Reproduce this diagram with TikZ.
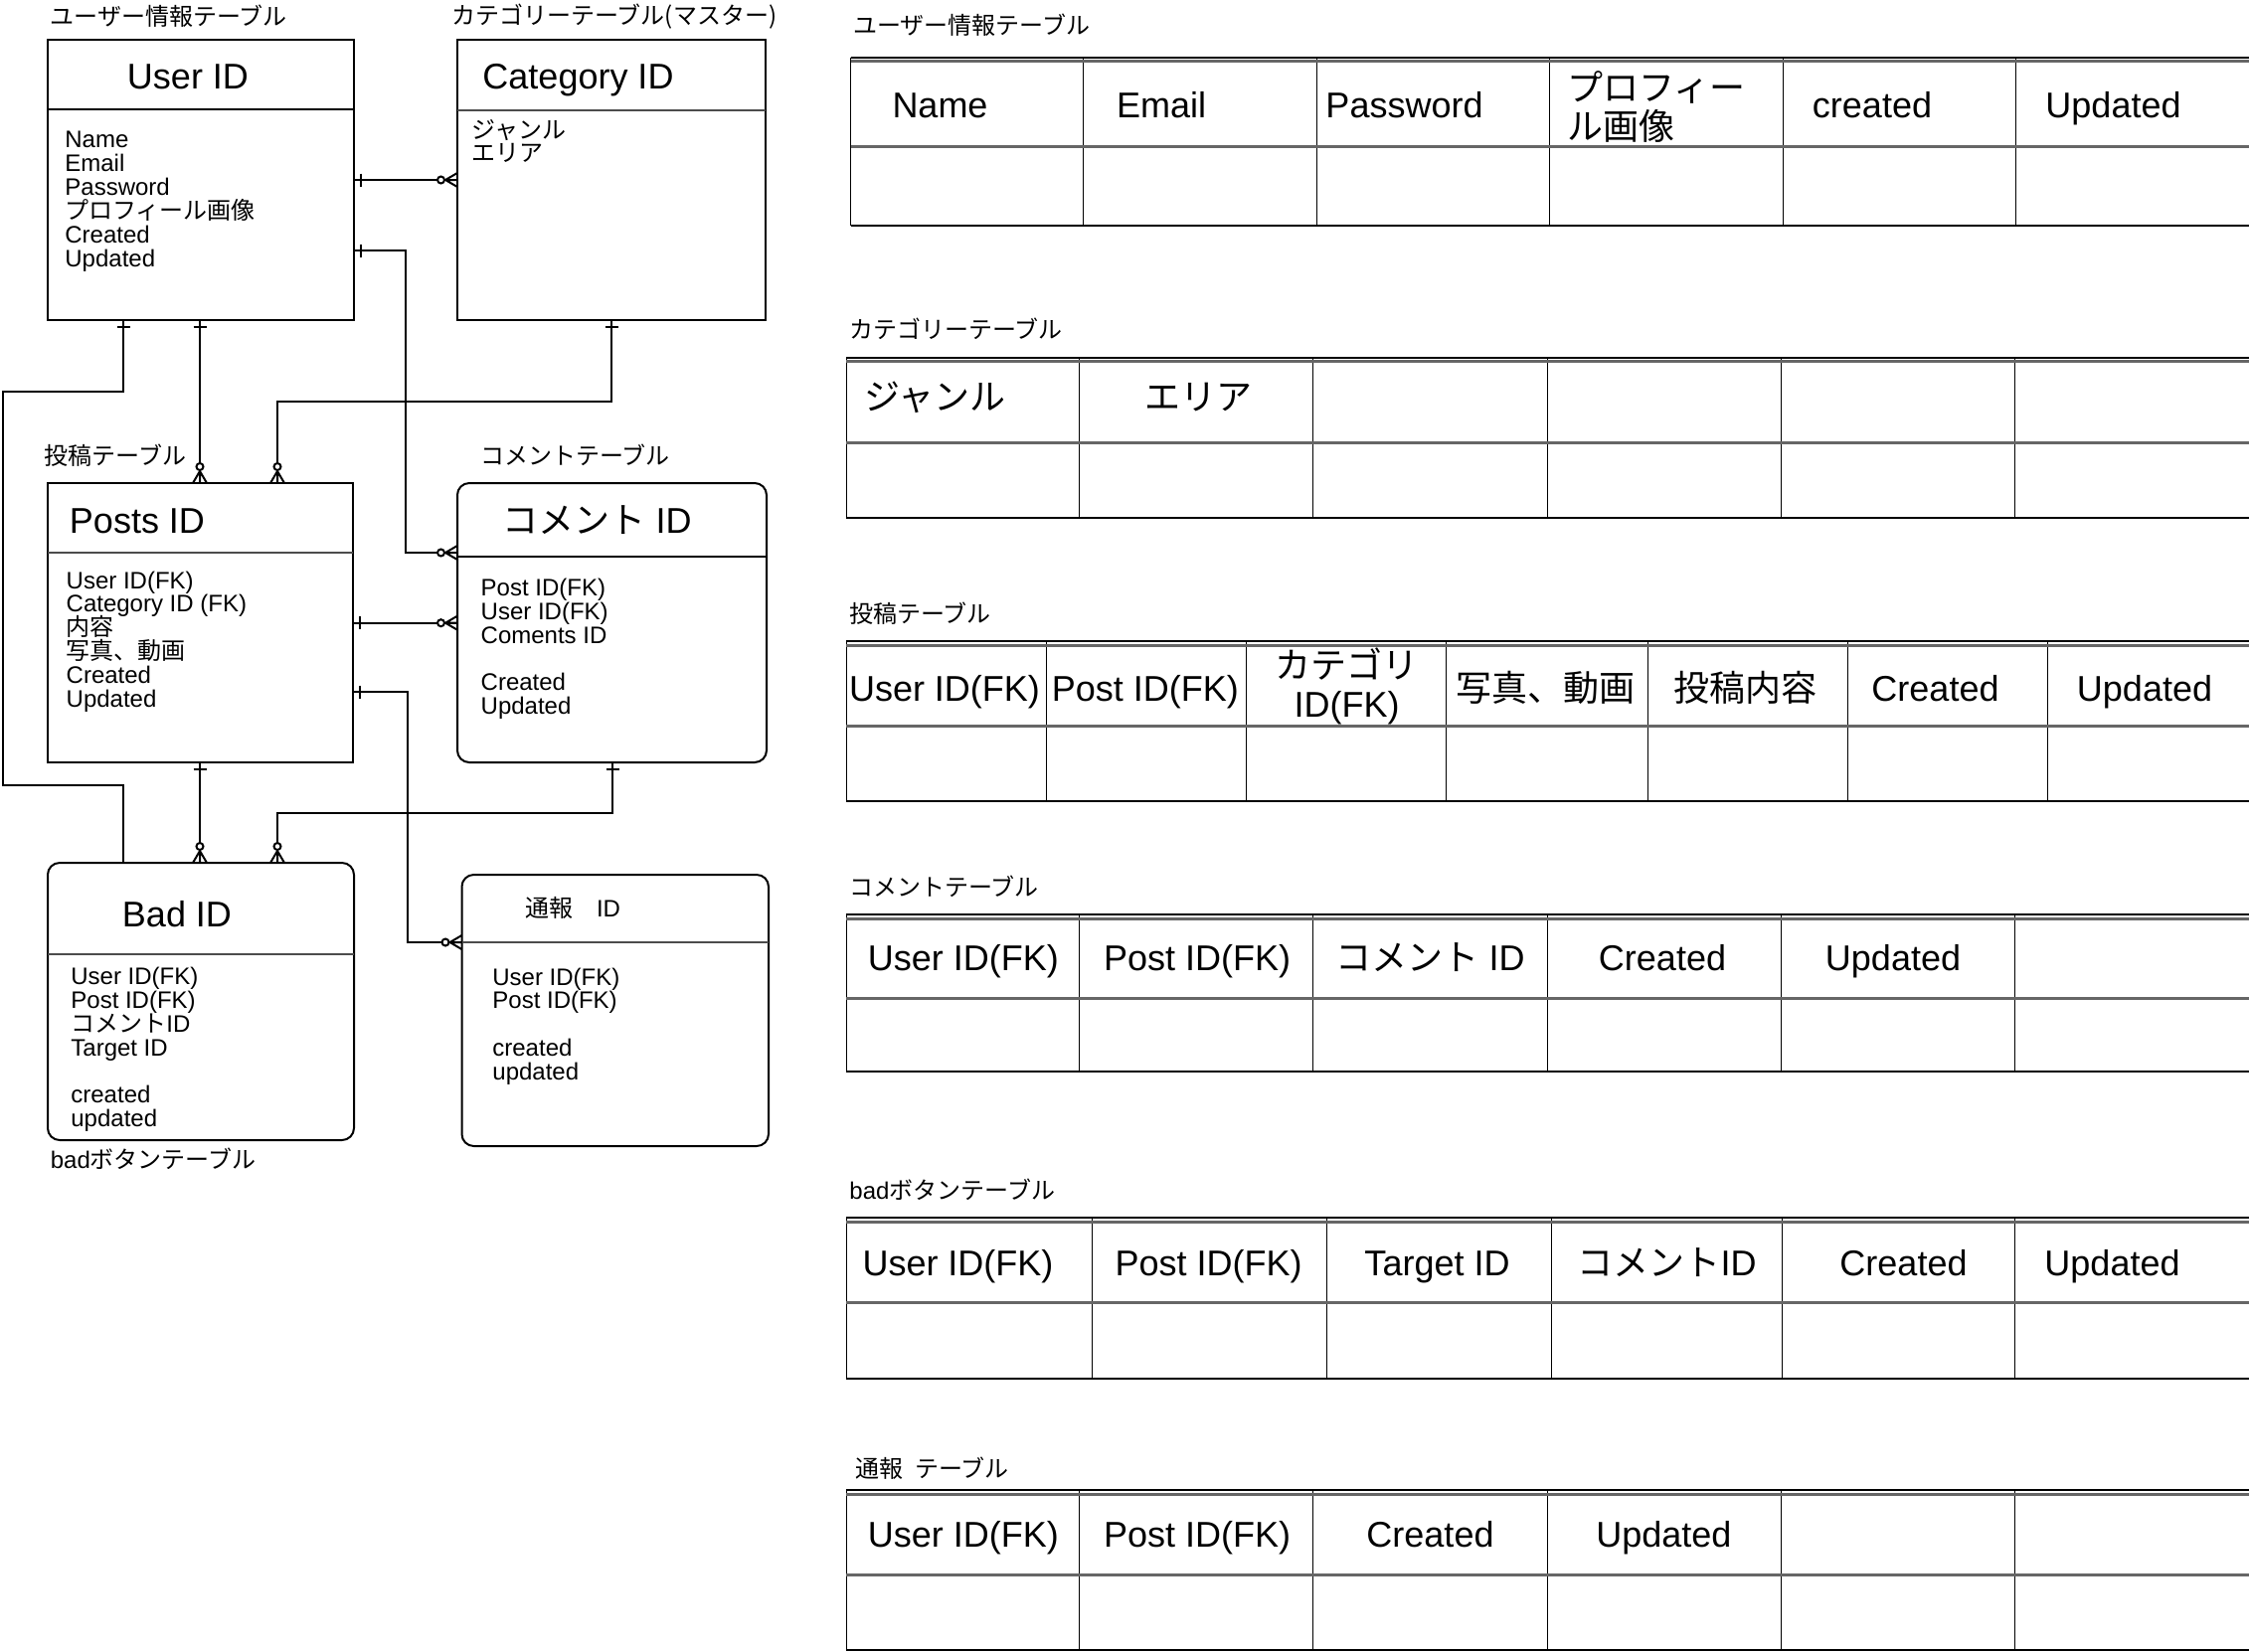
\documentclass[tikz,border=0pt]{standalone}
\usepackage{fontspec}
\setmainfont{Liberation Sans}
\newfontfamily\jpfont{Noto Sans CJK JP}
\newcommand{\jtxt}[1]{{\jpfont #1}}
\lineskiplimit=-\maxdimen
\tikzset{
  erbox/.style={draw, line width=1pt, inner sep=0pt, outer sep=0pt, anchor=north west},
  rbox/.style={erbox, rounded corners=6pt},
  erdiv/.style={line width=1pt, black!70},
  conn/.style={line width=1pt, black},
  lbl/.style={font=\fontsize{12}{12}\selectfont, inner sep=0pt, anchor=base west},
  hd/.style={font=\fontsize{18}{18}\selectfont, inner sep=0pt, anchor=base},
  fld/.style={font=\fontsize{12}{11.95}\selectfont, inner sep=0pt, anchor=base west, align=left},
  cell/.style={font=\fontsize{18}{19.5}\selectfont, inner sep=0pt, anchor=base},
  tblack/.style={line width=1pt, black},
  tgray/.style={line width=1.5pt, black!60},
  tcol/.style={line width=0.5pt, black},
  oneR/.pic={\draw[conn] (7,-6.5) -- (7,6.5);},
  oneB/.pic={\draw[conn] (-6.5,7) -- (6.5,7);},
  zmanyL/.pic={\draw[conn] (0,-7) -- (-12,0) -- (0,7) (-12,0) -- (0,0);
               \draw[conn,fill=white] (-16.5,0) circle[radius=3.5];},
  zmanyT/.pic={\draw[conn] (-7,0) -- (0,-12) -- (7,0) (0,-12) -- (0,0);
               \draw[conn,fill=white] (0,-16.5) circle[radius=3.5];},
}
\newcommand{\rtab}[5]{%
  \draw[tcol] (#1,#2) -- (#1,#4);
  \foreach \cx in {#5} {\draw[tcol] (\cx,#2) -- (\cx,#4);}
  \draw[tblack] (#1,#2) -- (2262,#2);
  \draw[tgray] (#1,#2+4) -- (2262,#2+4);
  \draw[tgray] (#1,#3) -- (2262,#3);
  \draw[tblack] (#1,#4) -- (2262,#4);
}
\begin{document}
\begin{tikzpicture}[x=0.5pt, y=-0.5pt]
\useasboundingbox (0,0) rectangle (2262,1661);

% ---------------- ER boxes ----------------
\node[erbox, minimum width=154pt, minimum height=141pt] (user) at (48,40) {};
\node[erbox, minimum width=155pt, minimum height=141pt] (cat) at (460,40) {};
\node[erbox, minimum width=153.5pt, minimum height=140.5pt] (posts) at (48,486) {};
\node[rbox, minimum width=155.5pt, minimum height=140.5pt] (comm) at (460,486) {};
\node[rbox, minimum width=154pt, minimum height=139.5pt] (bad) at (48,868) {};
\node[rbox, minimum width=154.25pt, minimum height=136.5pt] (tsuho) at (464.5,880) {};

\draw[line width=1pt] (48,110) -- (356,110);
\draw[erdiv] (460,111) -- (770,111);
\draw[erdiv] (48,556) -- (355,556);
\draw[line width=1pt] (460,560) -- (771,560);
\draw[erdiv] (48,960) -- (356,960);
\draw[erdiv] (464.5,948) -- (773,948);

% headings
\node[hd] (userh) at (189,89) {User ID};
\node[hd] (cath) at (581.5,89) {Category ID};
\node[hd] (postsh) at (138,536) {Posts ID};
\node[hd] (commh) at (600.5,536) {\jtxt{コメント} ID};
\node[hd] (badh) at (178,932) {Bad ID};
\node[lbl, anchor=base] (tsuhoh) at (576,922) {\jtxt{通報　}ID};

% fields (anchor = baseline of last line)
\node[fld] (userf) at (65,268.1) {Name\\Email\\Password\\\jtxt{プロフィール画像}\\Created\\Updated};
\node[fld] (catf) at (474.5,162.9) {\jtxt{ジャンル}\\\jtxt{エリア}};
\node[fld] (postsf) at (66.3,711.5) {User ID(FK)\\Category ID (FK)\\\jtxt{内容}\\\jtxt{写真、動画}\\Created\\Updated};
\node[fld] (commf) at (483.3,718.8) {Post ID(FK)\\User ID(FK)\\Coments ID\\~\\Created\\Updated};
\node[fld] (badf) at (71,1133.7) {User ID(FK)\\Post ID(FK)\\\jtxt{コメント}ID\\Target ID\\~\\created\\updated};
\node[fld] (tsuhof) at (495,1086.6) {User ID(FK)\\Post ID(FK)\\~\\created\\updated};

% labels
\node[lbl] (l1) at (50.5,25.7) {\jtxt{ユーザー情報テーブル}};
\node[lbl] (l2) at (454,24) {\jtxt{カテゴリーテーブル(マスター)}};
\node[lbl] (l3) at (44.4,467) {\jtxt{投稿テーブル}};
\node[lbl] (l4) at (483,467) {\jtxt{コメントテーブル}};
\node[lbl] (l5) at (50.5,1175) {bad\jtxt{ボタンテーブル}};

% ---------------- connectors ----------------
% user -> category
\draw[conn] ([yshift=-70.5pt]user.north east) -- ([yshift=-70.5pt]cat.north west);
\pic at ([yshift=-70.5pt]user.north east) {oneR};
\pic at ([yshift=-70.5pt]cat.north west) {zmanyL};
% user -> comment
\draw[conn] ([yshift=-106pt]user.north east) -| (408,556) -- ([yshift=-35pt]comm.north west);
\pic at ([yshift=-106pt]user.north east) {oneR};
\pic at ([yshift=-35pt]comm.north west) {zmanyL};
% user -> bad (left route)
\draw[conn] ([xshift=38pt]user.south west) -- (124,394) -- (3,394) -- (3,790) -- (124,790) -- ([xshift=38pt]bad.north west);
\pic at ([xshift=38pt]user.south west) {oneB};
% user -> posts
\draw[conn] ([xshift=76.5pt]user.south west) -- ([xshift=76.5pt]posts.north west);
\pic at ([xshift=76.5pt]user.south west) {oneB};
\pic at ([xshift=76.5pt]posts.north west) {zmanyT};
% category -> posts
\draw[conn] ([xshift=77.5pt]cat.south west) -- (615,404) -- (279,404) -- ([xshift=115.5pt]posts.north west);
\pic at ([xshift=77.5pt]cat.south west) {oneB};
\pic at ([xshift=115.5pt]posts.north west) {zmanyT};
% posts -> comment
\draw[conn] ([yshift=-70.35pt]posts.north east) -- ([yshift=-70.35pt]comm.north west);
\pic at ([yshift=-70.35pt]posts.north east) {oneR};
\pic at ([yshift=-70.35pt]comm.north west) {zmanyL};
% posts -> tsuho
\draw[conn] ([yshift=-105pt]posts.north east) -| (410,948) -- ([yshift=-34pt]tsuho.north west);
\pic at ([yshift=-105pt]posts.north east) {oneR};
\pic at ([yshift=-34pt]tsuho.north west) {zmanyL};
% posts -> bad
\draw[conn] ([xshift=76.5pt]posts.south west) -- ([xshift=76.5pt]bad.north west);
\pic at ([xshift=76.5pt]posts.south west) {oneB};
\pic at ([xshift=76.5pt]bad.north west) {zmanyT};
% comment -> bad
\draw[conn] ([xshift=78pt]comm.south west) -- (616,818) -- (279,818) -- ([xshift=115.5pt]bad.north west);
\pic at ([xshift=78pt]comm.south west) {oneB};
\pic at ([xshift=115.5pt]bad.north west) {zmanyT};

% ---------------- right tables ----------------
\rtab{855.5}{57.5}{147.5}{227}{1089.4,1324.3,1558.3,1793.2,2027.2}
\node[lbl] (r1) at (858,34) {\jtxt{ユーザー情報テーブル}};
\node[cell] (a1) at (945.5,118) {Name};
\node[cell] (a2) at (1168,118) {Email};
\node[cell] (a3) at (1412.5,118) {Password};
\node[cell, anchor=base west, align=left] (a4) at (1576,140) {\jtxt{プロフィー}\\\jtxt{ル画像}};
\node[cell] (a5) at (1883,118) {created};
\node[cell] (a6) at (2125.5,118) {Updated};

\rtab{851}{359.5}{445.7}{521}{1085.8,1320.7,1556.5,1791.4,2026.3}
\node[lbl] (r2) at (854,340.7) {\jtxt{カテゴリーテーブル}};
\node[cell] (b1) at (940.6,412) {\jtxt{ジャンル}};
\node[cell] (b2) at (1205,412) {\jtxt{エリア}};

\rtab{851}{645}{730.3}{806}{1052.2,1253.6,1454.9,1657.2,1858.5,2059.9}
\node[lbl] (r3) at (854,626.5) {\jtxt{投稿テーブル}};
\node[cell] (c1) at (950,705) {User ID(FK)};
\node[cell] (c2) at (1151.8,705) {Post ID(FK)};
\node[cell, align=center] (c3) at (1354.5,721) {\jtxt{カテゴリ}\\ID(FK)};
\node[cell] (c4) at (1554,705) {\jtxt{写真、動画}};
\node[cell] (c5) at (1755,705) {\jtxt{投稿内容}};
\node[cell] (c6) at (1946.5,705) {Created};
\node[cell] (c7) at (2157,705) {Updated};

\rtab{851}{920}{1004}{1078}{1085.8,1320.7,1556.5,1791.4,2026.3}
\node[lbl] (r4) at (854,901.5) {\jtxt{コメントテーブル}};
\node[cell] (d1) at (968.8,976) {User ID(FK)};
\node[cell] (d2) at (1204,976) {Post ID(FK)};
\node[cell] (d3) at (1438.5,976) {\jtxt{コメント} ID};
\node[cell] (d4) at (1672,976) {Created};
\node[cell] (d5) at (1904,976) {Updated};

\rtab{851}{1225}{1310}{1386.5}{1098.5,1334.3,1560,1792.3,2026.3}
\node[lbl] (r5) at (854,1206.5) {bad\jtxt{ボタンテーブル}};
\node[cell] (e1) at (963.5,1283) {User ID(FK)};
\node[cell] (e2) at (1215.5,1283) {Post ID(FK)};
\node[cell] (e3) at (1445.5,1283) {Target ID};
\node[cell] (e4) at (1676.5,1283) {\jtxt{コメント}ID};
\node[cell] (e5) at (1914.5,1283) {Created};
\node[cell] (e6) at (2124.5,1283) {Updated};

\rtab{851}{1499}{1584}{1660}{1085.8,1320.7,1556.5,1791.4,2026.3}
\node[lbl] (r6) at (860,1486) {\jtxt{通報\hspace{0.5em}テーブル}};
\node[cell] (f1) at (968.8,1556) {User ID(FK)};
\node[cell] (f2) at (1204,1556) {Post ID(FK)};
\node[cell] (f3) at (1438.5,1556) {Created};
\node[cell] (f4) at (1673.3,1556) {Updated};
\end{tikzpicture}
\end{document}
